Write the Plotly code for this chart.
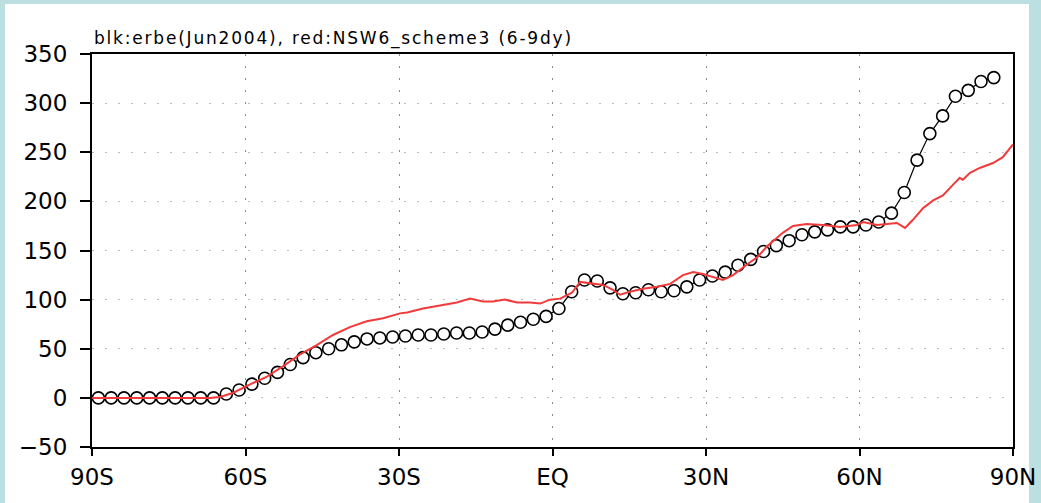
import plotly.graph_objects as go

# Black series (ERBE), every 2.5 degrees
blk_lat = [-88.75 + 2.5 * i for i in range(71)]
blk_val = [0, 0, 0, 0, 0, 0, 0, 0, 0, 0,
           4, 8, 14, 20, 26, 34, 41, 46, 50, 54,
           57, 60, 61, 62, 63, 64, 64, 65, 66, 66,
           67, 70, 74, 77, 80, 83, 91, 108, 120, 119,
           112, 106, 107, 110, 108, 109, 113, 120, 124, 128,
           135, 141, 149, 155, 160, 166, 169, 171, 174, 174,
           176, 179, 188, 209, 242, 269, 287, 307, 313, 322,
           326]

# Red series (NSW6_scheme3)
red_lat = [-90, -80, -70, -67, -65, -62.5, -59, -56, -52.7, -49.4, -46, -42.9,
           -39.6, -36.3, -33.1, -29.8, -28.4, -25.3, -22, -18.7, -16.1, -13.6,
           -11.6, -9.3, -6.9, -4.4, -2.4, -0.5, 1.5, 3.8, 5.4, 7.3, 9.9, 11.8,
           13.2, 15.1, 17.7, 20.4, 23, 25.5, 27.5, 29.4, 31.4, 33.3, 35.3, 37.2,
           38.6, 40, 41.9, 45, 47, 49.7, 52.9, 56.2, 59.5, 60.7, 63.4, 67.3,
           68.9, 70.4, 72.4, 74.4, 76.3, 78.3, 79.6, 80.2, 81.6, 83.5, 86.1,
           88, 89.4, 90]
red_val = [0, 0, 0, 0, 1, 5, 14, 21, 32, 44, 54, 64,
           72, 78, 81, 86, 87, 91, 94, 97, 101, 98,
           98, 100, 97, 97, 96, 100, 101, 107, 118, 117, 115, 110,
           105, 108, 111, 113, 116, 125, 128, 126, 123, 120, 125, 133,
           138, 143, 154, 168, 175, 177, 176, 174, 176, 179, 176, 178,
           173, 181, 193, 201, 206, 217, 224, 222, 229, 234, 239,
           245, 255, 258]

x_tickvals = [-90, -60, -30, 0, 30, 60, 90]
x_ticktext = ["90S", "60S", "30S", "EQ", "30N", "60N", "90N"]
y_tickvals = [-50, 0, 50, 100, 150, 200, 250, 300, 350]

title_text = "blk:erbe(Jun2004), red:NSW6_scheme3 (6-9dy)"

fig = go.Figure()
fig.add_trace(go.Scatter(
    x=blk_lat, y=blk_val, mode="lines+markers",
    line=dict(color="black", width=1.2),
    marker=dict(symbol="circle", size=12, color="white",
                line=dict(color="black", width=1.6)),
    showlegend=False, hoverinfo="skip"))
fig.add_trace(go.Scatter(
    x=red_lat, y=red_val, mode="lines",
    line=dict(color="#f23a3a", width=2),
    showlegend=False, hoverinfo="skip"))

L, R, T, B = 92, 28, 54, 56
W, H = 1041, 503
pw, ph = W - L - R, H - T - B

def px(xp):
    return (xp - L) / pw

def py(yp):
    return (H - B - yp) / ph

# teal page border around white panel
fig.add_shape(type="rect", xref="paper", yref="paper",
              x0=px(5), x1=px(1029), y0=py(H + 5), y1=py(4),
              fillcolor="white", line=dict(width=0), layer="below")

FONT = "DejaVu Sans, Verdana, sans-serif"

fig.update_layout(
    width=W, height=H,
    margin=dict(l=L, r=R, t=T, b=B, autoexpand=False),
    paper_bgcolor="#bcdfe2",
    plot_bgcolor="white",
    font=dict(family=FONT, color="black"),
    annotations=[dict(
        text='<span style="letter-spacing:1.8px">' + title_text + '</span>',
        xref="paper", yref="paper",
        x=0, y=1, xanchor="left", yanchor="bottom", yshift=3,
        showarrow=False, font=dict(size=17, color="black", family=FONT))],
)
fig.update_xaxes(
    range=[-90, 90], tickvals=x_tickvals, ticktext=x_ticktext,
    showline=True, linecolor="black", linewidth=2, mirror=True,
    ticks="outside", ticklen=7, tickwidth=2, tickcolor="black",
    tickfont=dict(size=23), ticklabelstandoff=1, automargin=False,
    showgrid=True, gridcolor="#8a8a8a", gridwidth=1.2, griddash="2px,10px",
    zeroline=False)
fig.update_yaxes(
    range=[-50, 350], tickvals=y_tickvals,
    showline=True, linecolor="black", linewidth=2, mirror=True,
    ticks="outside", ticklen=10, tickwidth=2, tickcolor="black",
    tickfont=dict(size=23), ticklabelstandoff=8, automargin=False,
    showgrid=True, gridcolor="#bdbdbd", gridwidth=1.2, griddash="2px,11px",
    zeroline=False)

fig.write_html("out.html")
